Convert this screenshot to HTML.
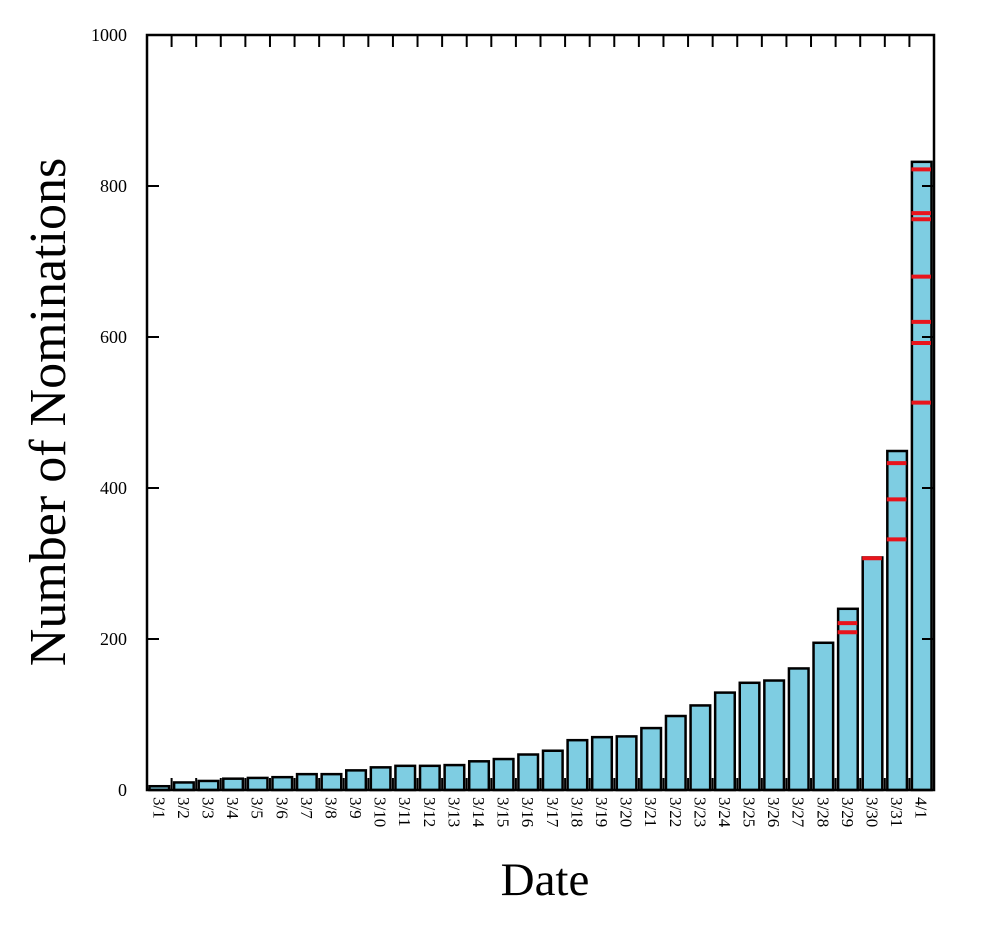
<!DOCTYPE html>
<html><head><meta charset="utf-8"><style>
body{margin:0;background:#fff;}
svg text{font-family:"Liberation Serif",serif;fill:#000;}
</style></head><body>
<svg id="chart" width="1000" height="931" xmlns="http://www.w3.org/2000/svg">
<g id="bars"></g>
<g id="marks"></g>
<g id="axes"></g>
<text x="545" y="895" font-size="47" text-anchor="middle">Date</text>
<text transform="translate(65,412) rotate(-90)" font-size="52" text-anchor="middle">Number of Nominations</text>
</svg>
<script>
const categories=["3/1","3/2","3/3","3/4","3/5","3/6","3/7","3/8","3/9","3/10","3/11","3/12","3/13","3/14","3/15","3/16","3/17","3/18","3/19","3/20","3/21","3/22","3/23","3/24","3/25","3/26","3/27","3/28","3/29","3/30","3/31","4/1"];
const values=[5,10,12,15,16,17,21,21,26,30,32,32,33,38,41,47,52,66,70,71,82,98,112,129,142,145,161,195,240,308,449,832];
const markerCats=["3/29","3/29","3/30","3/31","3/31","3/31","4/1","4/1","4/1","4/1","4/1","4/1","4/1"];
const markerVals=[221,209,307,433,385,332,822,764,756,680,620,592,513];
const yTicks=[0,200,400,600,800,1000];
const X0=147,X1=934,Y0=790,Y1=35,YMAX=1000;
const slot=(X1-X0)/categories.length;
const xs=i=>X0+i*slot;
const ys=v=>Y0-(v/YMAX)*(Y0-Y1);
const NS="http://www.w3.org/2000/svg";
function mk(tag,parent,attrs){const e=document.createElementNS(NS,tag);for(const k in attrs)e.setAttribute(k,attrs[k]);parent.appendChild(e);return e;}
const gb=document.getElementById('bars'),gm=document.getElementById('marks'),ga=document.getElementById('axes');
values.forEach((v,i)=>{
 const r=mk('rect',gb,{x:xs(i)+2.5,y:ys(v),width:slot-5,height:Y0-ys(v),fill:'#7ecde2',stroke:'#000','stroke-width':2.5});
 
 
 const t=mk('text',ga,{transform:`translate(${xs(i)+slot/2-6},797) rotate(90)`,'font-size':17});
 t.textContent=categories[i];
 
 
});
markerVals.forEach((v,j)=>{
 const i=categories.indexOf(markerCats[j]);
 const l=mk('line',gm,{x1:xs(i)+2,x2:xs(i)+slot-3,y1:ys(v),y2:ys(v),stroke:'#e8141c','stroke-width':4});
 
 
});
const frame=mk('rect',ga,{x:X0,y:Y1,width:X1-X0,height:Y0-Y1,fill:'none',stroke:'#000','stroke-width':2.5});


for(let i=1;i<categories.length;i++){
 const tk=mk('line',ga,{x1:xs(i),x2:xs(i),y1:Y1,y2:Y1+12,stroke:'#000','stroke-width':2});
 
 
 const tb=mk('line',ga,{x1:xs(i),x2:xs(i),y1:Y0,y2:Y0-12,stroke:'#000','stroke-width':2});
 
 
}
yTicks.forEach(v=>{
 const a=mk('line',ga,{x1:X0,x2:X0+12,y1:ys(v),y2:ys(v),stroke:'#000','stroke-width':2});
 
 
 const b=mk('line',ga,{x1:X1,x2:X1-12,y1:ys(v),y2:ys(v),stroke:'#000','stroke-width':2});
 
 
 const t=mk('text',ga,{x:127,y:ys(v)+6,'font-size':18,'text-anchor':'end'});
 t.textContent=v;
 
 
});
</script>
</body></html>
